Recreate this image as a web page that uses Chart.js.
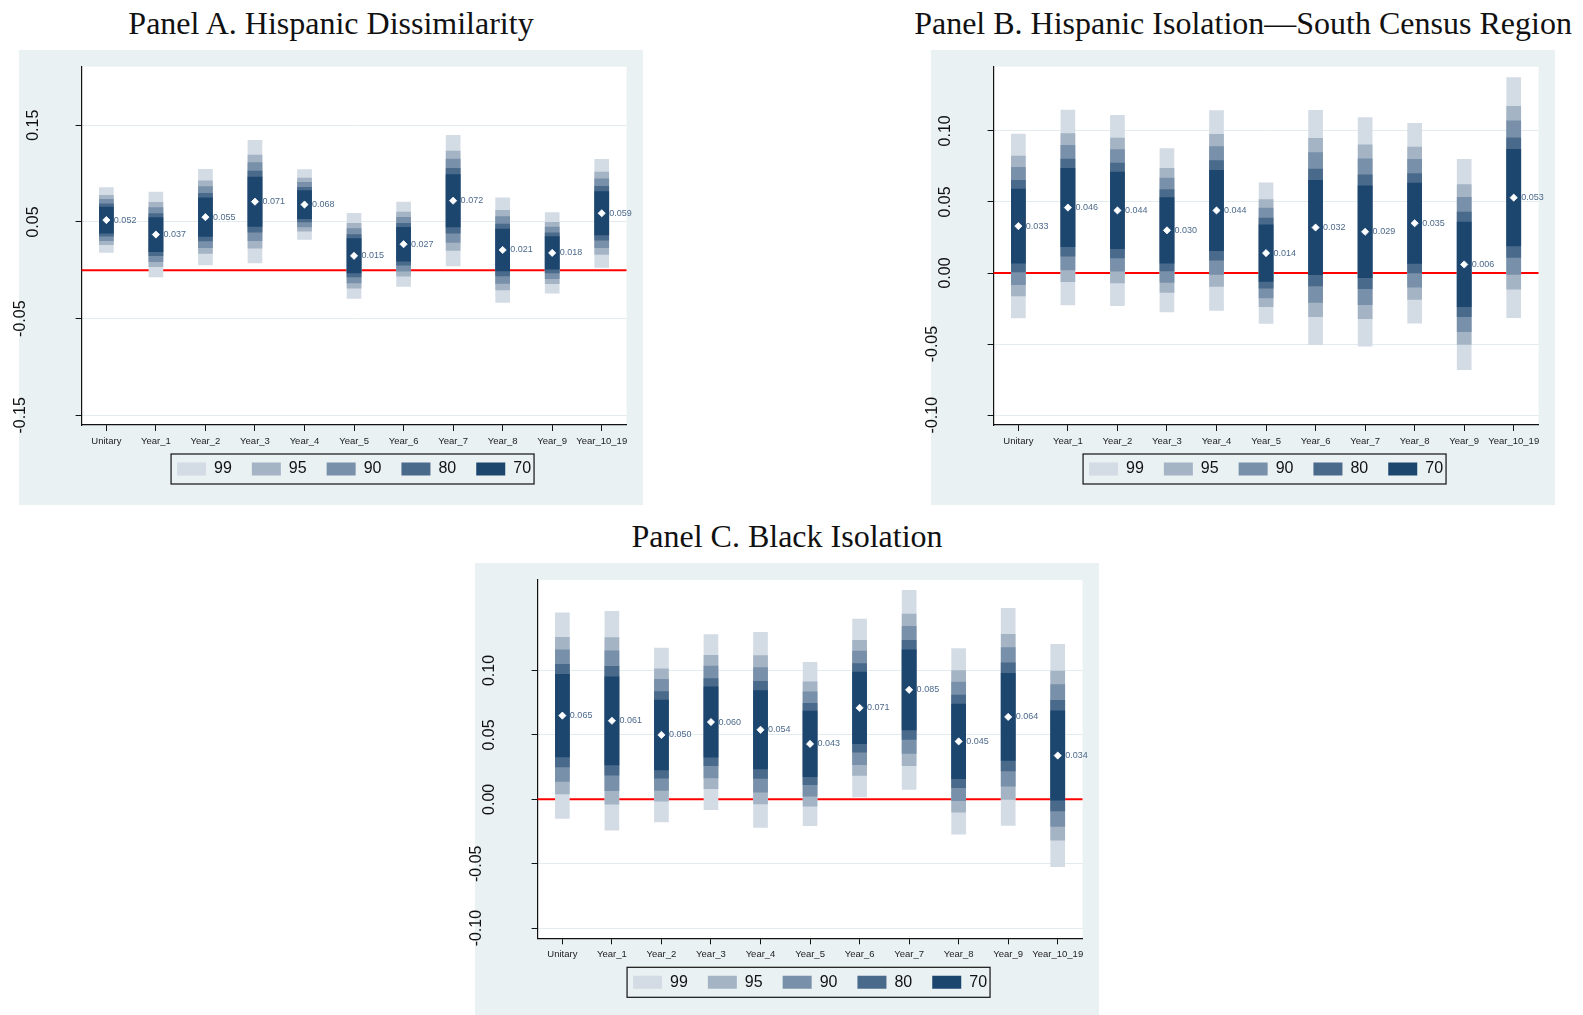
<!DOCTYPE html>
<html>
<head>
<meta charset="utf-8">
<title>Segregation estimates by year</title>
<script src="https://cdn.jsdelivr.net/npm/chart.js@4.4.1/dist/chart.umd.min.js"></script>
<style>
  body { margin: 0; width: 1583px; height: 1015px; overflow: hidden; position: relative; background: #fff; }
  .title { position: absolute; width: 800px; text-align: center; white-space: nowrap;
           font-family: "Liberation Serif", "Times New Roman", serif; font-size: 32px; line-height: 1; color: #111; }
  canvas { position: absolute; }
</style>
</head>
<body>
<div class="title" style="left:-69px; top:7px;">Panel A. Hispanic Dissimilarity</div>
<div class="title" style="left:843px; top:7px;">Panel B. Hispanic Isolation—South Census Region</div>
<div class="title" style="left:387px; top:520px;">Panel C. Black Isolation</div>

<canvas id="chart-a" width="638" height="455" style="left:5px; top:50px;"></canvas>
<canvas id="chart-b" width="638" height="455" style="left:917px; top:50px;"></canvas>
<canvas id="chart-c" width="638" height="455" style="left:461px; top:563px;"></canvas>

<script>
// Categories and confidence levels
const categories = ['Unitary', 'Year_1', 'Year_2', 'Year_3', 'Year_4', 'Year_5', 'Year_6', 'Year_7', 'Year_8', 'Year_9', 'Year_10_19'];
const levels = ['70', '80', '90', '95', '99'];
const zCrit = [1.036, 1.282, 1.645, 1.960, 2.576];
const levelColors = ['#1c466e', '#4a6a8c', '#7890a9', '#a4b4c5', '#d3dbe4'];

// Panel A. Hispanic Dissimilarity
const estA = [0.052, 0.037, 0.055, 0.071, 0.068, 0.015, 0.027, 0.072, 0.021, 0.018, 0.059];
const seA = [0.0130, 0.0170, 0.0192, 0.0246, 0.0140, 0.0171, 0.0169, 0.0262, 0.0210, 0.0162, 0.0217];
const yTicksA = [0.15, 0.05, -0.05, -0.15];
const yLabelsA = ['0.15', '0.05', '-0.05', '-0.15'];

// Panel B. Hispanic Isolation, South
const estB = [0.033, 0.046, 0.044, 0.030, 0.044, 0.014, 0.032, 0.029, 0.035, 0.006, 0.053];
const seB = [0.0251, 0.0266, 0.0260, 0.0223, 0.0273, 0.0192, 0.0320, 0.0312, 0.0273, 0.0287, 0.0328];
const yTicksB = [0.10, 0.05, 0.00, -0.05, -0.10];
const yLabelsB = ['0.10', '0.05', '0.00', '-0.05', '-0.10'];

// Panel C. Black Isolation
const estC = [0.065, 0.061, 0.050, 0.060, 0.054, 0.043, 0.071, 0.085, 0.045, 0.064, 0.034];
const seC = [0.0310, 0.0330, 0.0262, 0.0264, 0.0294, 0.0246, 0.0268, 0.0300, 0.0280, 0.0327, 0.0335];
const yTicksC = [0.10, 0.05, 0.00, -0.05, -0.10];
const yLabelsC = ['0.10', '0.05', '0.00', '-0.05', '-0.10'];

const BG_COLOR = '#eaf1f3';
const GRID_COLOR = '#e2ebee';
const BG_OFFSET = 14;
const SANS = '"Liberation Sans", Arial, sans-serif';

Chart.defaults.font.family = SANS;

const panelBackground = {
  id: 'panelBackground',
  beforeDraw(chart) {
    const { ctx, chartArea } = chart;
    ctx.save();
    ctx.fillStyle = BG_COLOR;
    ctx.fillRect(BG_OFFSET, 0, chart.width - BG_OFFSET, chart.height);
    ctx.fillStyle = '#fff';
    ctx.fillRect(chartArea.left, chartArea.top, chartArea.right - chartArea.left, chartArea.bottom - chartArea.top);
    ctx.restore();
  }
};

const zeroLine = {
  id: 'zeroLine',
  beforeDatasetsDraw(chart) {
    const { ctx, chartArea } = chart;
    const y = chart.scales.y.getPixelForValue(0);
    ctx.save();
    ctx.strokeStyle = '#ff0000';
    ctx.lineWidth = 2;
    ctx.beginPath();
    ctx.moveTo(chartArea.left, y);
    ctx.lineTo(chartArea.right, y);
    ctx.stroke();
    ctx.restore();
  }
};

const estimateText = {
  id: 'estimateText',
  afterDatasetsDraw(chart) {
    const { ctx } = chart;
    const idx = chart.data.datasets.length - 1;
    const values = chart.data.datasets[idx].data;
    ctx.save();
    ctx.font = '9px ' + SANS;
    ctx.fillStyle = '#4d6a8c';
    ctx.textAlign = 'left';
    ctx.textBaseline = 'middle';
    chart.getDatasetMeta(idx).data.forEach((pt, i) => {
      ctx.fillText(values[i].toFixed(3), pt.x + 7.5, pt.y);
    });
    ctx.restore();
  }
};

// Stata-style vertical y labels
const yTickText = {
  id: 'yTickText',
  afterDraw(chart, args, opts) {
    const { ctx } = chart;
    const scale = chart.scales.y;
    ctx.save();
    ctx.font = '16px ' + SANS;
    ctx.fillStyle = '#111';
    ctx.textAlign = 'center';
    ctx.textBaseline = 'middle';
    opts.values.forEach((v, i) => {
      const label = opts.labels[i];
      const x = label.startsWith('-') ? 16 : 28.5;
      ctx.save();
      ctx.translate(x, scale.getPixelForValue(v));
      ctx.rotate(-Math.PI / 2);
      ctx.fillText(label, 0, 0);
      ctx.restore();
    });
    ctx.restore();
  }
};

// category labels under the tick marks (the axis box is kept short for the legend)
const xTickText = {
  id: 'xTickText',
  afterDraw(chart) {
    const { ctx, chartArea } = chart;
    const scale = chart.scales.x;
    ctx.save();
    ctx.font = '9.5px ' + SANS;
    ctx.fillStyle = '#222';
    ctx.textAlign = 'center';
    ctx.textBaseline = 'middle';
    chart.data.labels.forEach((label, i) => {
      ctx.fillText(label, scale.getPixelForTick(i), chartArea.bottom + 16);
    });
    ctx.restore();
  }
};

const legendBorder = {
  id: 'legendBorder',
  afterDraw(chart) {
    const boxes = chart.legend?.legendHitBoxes;
    if (!boxes || !boxes.length) return;
    const first = boxes[0];
    const last = boxes[boxes.length - 1];
    const { ctx } = chart;
    ctx.save();
    ctx.strokeStyle = '#111';
    ctx.lineWidth = 1.2;
    ctx.strokeRect(first.left - 6, first.top - 7, last.left + last.width - first.left + 9, first.height + 14);
    ctx.restore();
  }
};

function buildDatasets(est, se) {
  const bars = levels.map((level, k) => ({
    type: 'bar',
    label: level,
    data: est.map((e, i) => [e - zCrit[k] * se[i], e + zCrit[k] * se[i]]),
    backgroundColor: levelColors[k],
    borderWidth: 0,
    barThickness: 14,
    grouped: false
  }));
  bars.push({
    type: 'line',
    label: 'estimate',
    data: est,
    showLine: false,
    pointStyle: 'rectRot',
    pointRadius: 3.6,
    pointBackgroundColor: '#fff',
    pointBorderColor: '#fff',
    pointBorderWidth: 0.8,
    order: -1
  });
  return bars;
}

function makePanel(canvasId, est, se, yMin, yMax, yTicks, yLabels, padTop, padBottom) {
  const canvas = document.getElementById(canvasId);
  if (!canvas) {
    console.error('Canvas not found: ' + canvasId);
    return;
  }
  new Chart(canvas.getContext('2d'), {
    type: 'bar',
    data: { labels: categories, datasets: buildDatasets(est, se) },
    options: {
      responsive: false,
      animation: false,
      events: [],
      layout: { padding: { top: padTop, right: 16.5, bottom: padBottom, left: 0 } },
      scales: {
        x: {
          offset: true,
          grid: { display: true, drawOnChartArea: false, offset: false, tickLength: 6, tickColor: '#111', tickWidth: 1 },
          border: { display: true, color: '#111', width: 1.2 },
          ticks: { display: false, autoSkip: false },
          afterFit: s => { s.height = 16; }
        },
        y: {
          min: yMin,
          max: yMax,
          afterBuildTicks: s => { s.ticks = yTicks.map(v => ({ value: v })); },
          grid: { color: GRID_COLOR, lineWidth: 1, tickLength: 6, tickColor: '#111', tickWidth: 1 },
          border: { display: true, color: '#111', width: 1.2 },
          ticks: { display: false },
          afterFit: s => { s.width = 76.6; }
        }
      },
      plugins: {
        tooltip: { enabled: false },
        legend: {
          position: 'bottom',
          fullSize: false,
          reverse: true,
          labels: {
            boxWidth: 29,
            boxHeight: 13,
            padding: 20,
            color: '#111',
            font: { size: 16 },
            filter: item => item.text !== 'estimate'
          }
        },
        yTickText: { values: yTicks, labels: yLabels }
      }
    },
    plugins: [panelBackground, zeroLine, estimateText, yTickText, xTickText, legendBorder]
  });
}

document.addEventListener('DOMContentLoaded', () => {
  makePanel('chart-a', estA, seA, -0.16, 0.2106, yTicksA, yLabelsA, 16.7, 18);
  makePanel('chart-b', estB, seB, -0.1069, 0.1451, yTicksB, yLabelsB, 16.7, 18);
  makePanel('chart-c', estC, seC, -0.1079, 0.1703, yTicksC, yLabelsC, 17, 17.7);
});
</script>
</body>
</html>
